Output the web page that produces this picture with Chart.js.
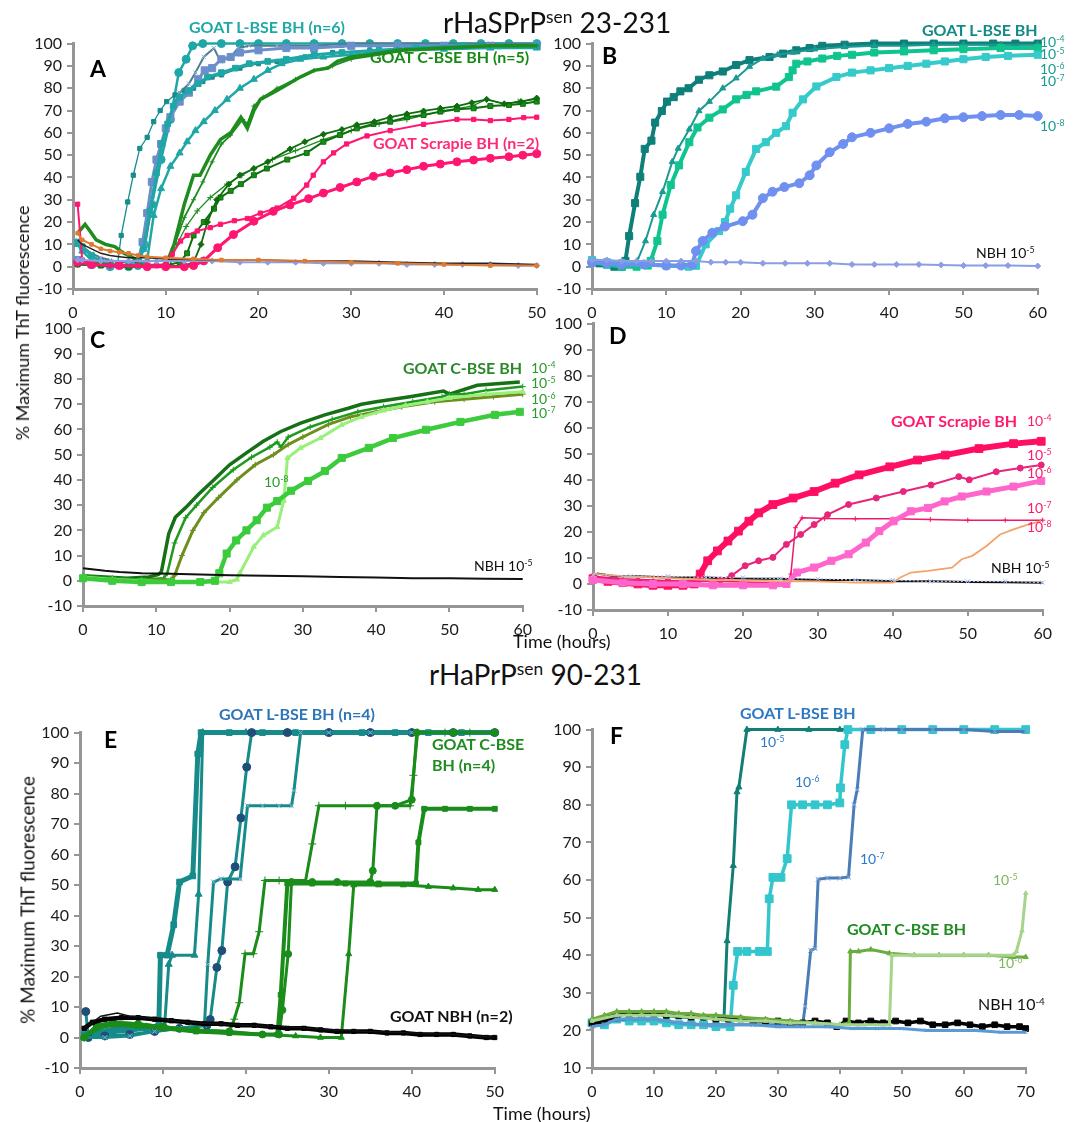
<!DOCTYPE html>
<html><head><meta charset="utf-8">
<script src="https://cdn.jsdelivr.net/npm/chart.js@4.4.1/dist/chart.umd.min.js"></script>
<style>
html,body{margin:0;padding:0;background:#fff;}
body{width:1077px;height:1122px;position:relative;overflow:hidden;font-family:Lato,"Open Sans",sans-serif;}
canvas{position:absolute;}
.t{position:absolute;white-space:nowrap;line-height:1;transform:translateY(-50%);}
.b{font-weight:bold;}
sup{font-size:0.62em;vertical-align:0.55em;line-height:0;}
</style></head><body>
<script>
// ---------------- DATA (time in hours, % maximum ThT fluorescence) ----------------
// Panel A: rHaSPrPsen 23-231, brain homogenates
const A_LBSE_1=[[0.5,10],[1,8],[2,5],[3,3],[4,1.5],[4.8,1],[5.2,14],[5.9,29],[6.5,41],[7.2,53],[8,58],[8.7,65],[9.4,70],[10.1,74],[11,77],[12,79],[13,80],[14,83],[15,85],[16,86],[18,89],[20,91],[22,92],[25,94],[28,96],[32,97],[36,98],[40,99],[45,99],[50,99]];
const A_LBSE_2=[[0.5,2],[2,1],[4,0],[6,0],[7,0.5],[7.7,10],[8.5,28],[9.5,48],[10.5,66],[11.4,87],[12.2,93],[12.9,99],[14,100],[16,100],[18,100],[20,100],[23,100],[26,100],[29,100],[32,100],[35,100],[38,100],[41,100],[44,100],[47,100],[50,100]];
const A_LBSE_3=[[0.5,3],[2,1],[4,0.5],[6,0.5],[7,2],[7.5,11],[8,24],[8.5,38],[9,48],[9.5,55],[10,62],[10.5,67],[11.5,74],[12.5,78],[13.5,84],[14.2,88],[15,89],[16,93],[17,94],[18,96],[20,97],[23,98],[26,98],[30,99],[35,99],[40,99],[45,99],[50,99]];
const A_LBSE_4=[[0.5,10],[1,7],[2,3],[3,1],[5,0],[7,0.5],[8,3],[8.7,23],[9.5,35],[10.5,45],[11.5,51],[12.3,56],[13.2,61],[14.1,65],[15.3,70],[16.6,75],[18,80],[19.5,84],[21,88],[22.5,91],[24.5,93],[27,94],[30,95],[35,97],[40,97.5],[45,98],[50,98]];
const A_LBSE_5=[[0.5,12],[1,9],[2,6],[3,4],[4,3],[5,2],[6,2],[7,2.5],[7.8,10],[8.6,30],[9.3,50],[10,62],[10.8,72],[11.5,78],[12.5,82],[13.2,87],[14.1,94],[15.2,98],[15.9,92],[17,94],[17.8,98],[19,99],[22,99],[26,99],[30,100],[35,100],[40,100],[45,100],[50,100]];
const A_LBSE_6=[[0.5,11],[1,9],[2,5],[3,2],[4,1],[6,0],[7,1],[7.6,8],[8.3,25],[9,42],[9.6,55],[10.2,64],[10.8,72],[11.5,76],[12.5,79],[13.5,82],[14.5,85],[16,87],[17.5,89],[19,91],[21,92],[23,93],[26,95],[29,96],[33,97],[37,98],[42,99],[46,99],[50,99]];
const A_CBSE_1=[[0.5,15],[1.3,19],[2,15],[2.5,12],[3.5,10],[4.5,9],[5.5,6],[6.5,4],[7,1],[8,0.5],[10,0.5],[10.9,10],[12,28],[13,41],[13.7,41],[14.8,50],[15.9,57],[17,60],[18.1,67],[18.8,62],[19.5,70],[20.2,75],[22,79],[24.5,85],[26,88],[27.5,89],[28.5,92],[30,94],[32,95],[35,97],[40,98],[45,99],[50,99]];
const A_CBSE_2=[[0.5,3],[2,2],[4,1],[6,0.5],[8,0.5],[10,1],[10.8,8],[12,22],[13,30],[14,38],[15,47],[16,55],[17,59],[18.3,66],[18.8,64],[19.5,72],[20.5,76],[22,80],[24,84],[26,88],[28,90],[30,93],[33,95],[36,97],[40,98],[45,99],[50,99]];
const A_CBSE_3=[[0.5,2],[3,1],[6,0.5],[9,0.5],[10.5,1],[11.2,10],[12.2,18],[13.4,25],[14.8,31],[16.6,37],[18.2,41],[19.5,44],[21.5,48],[24,52],[27,57],[30,61],[33,64],[36,66],[40,70],[43,72],[44.6,75],[46.5,73],[48,74],[50,75]];
const A_CBSE_4=[[0.5,1],[3,0.5],[6,0],[8,0],[10,0.5],[11.5,2],[12.3,6],[13,14],[14.1,20],[15.2,26],[15.9,31],[17,34],[18.1,37],[19.5,41],[20.9,44],[23.1,48],[25.2,51],[27,56],[28.8,59],[30.6,62],[32.4,64],[34.2,65],[36,67],[37.8,68],[39.6,69.5],[41.4,70.6],[43.2,71],[45,72],[47,72.5],[48.5,73],[50,74]];
const A_CBSE_5=[[0.5,1],[4,0.5],[8,0],[12,0.5],[13,2],[13.8,10],[14.5,20],[15.5,30],[16.8,37],[18,41],[19.5,44],[21,47],[23.4,52.8],[25,56],[27,59.4],[29,61.5],[30.6,63.6],[32.5,65],[34.2,67],[36,68.5],[37.8,69.8],[39.6,71],[41.4,72],[43,73.5],[44.6,75],[46.5,73],[48.3,74],[50,75.6]];
const A_SCR_1=[[0.5,28],[1,3],[2,1],[4,0.5],[7,0.5],[9,0.5],[10,1],[10.7,5.6],[11.6,11.5],[12.3,14],[13.4,16],[14.8,17.5],[15.9,19],[17.4,20.6],[18.8,21.6],[20.2,24],[22,26.3],[23.8,30.7],[25.2,36.6],[25.9,41],[27,47],[28.1,51],[29.5,55],[31.7,58.6],[34.2,61],[37.8,63.8],[41.4,66],[43.2,66],[45,65.5],[47,66],[48.6,66.8],[50,67]];
const A_SCR_2=[[0.5,2],[2,1],[5,0.5],[8,0],[10,0],[12,0],[13,0.5],[14.1,2.6],[15.6,8.5],[17.3,14.4],[19.5,20.4],[21.6,24.8],[23.4,27.7],[25.4,30.5],[27,33],[28.8,35.5],[30.6,38],[32.4,40.5],[34.2,42],[36,43.5],[37.8,45],[39.6,46],[41.4,47],[43.2,47.8],[45,48.6],[47,49.3],[48.5,50],[50,50.6]];
const A_NBH_1=[[0.5,15],[1,12],[2,10],[3,8],[4,7],[5,6.5],[6,6],[7,5],[8,4.5],[10,4],[13,3.5],[16,3],[20,3],[25,2.5],[30,2],[35,1.5],[40,1],[45,0.5],[50,0.5]];
const A_NBH_2=[[0.5,12],[1,10],[2,8],[3,6],[4,5],[5,4.5],[6,4],[8,4],[10,3.5],[15,3],[20,3],[25,2.5],[30,2.5],[35,2],[40,1.5],[45,1.5],[50,1]];
const A_NBH_3=[[0.5,3],[1,3],[3,2.5],[6,2.5],[9,2.5],[12,2.5],[15,2.5],[18,2],[21,2],[24,2],[27,1.5],[30,1.5],[33,1.5],[36,1],[39,1],[42,1],[45,1],[48,0.5],[50,0.5]];
// Panel B: GOAT L-BSE BH dilutions
const B_1e4=[[0,2],[1,1.5],[2,1],[3,0],[4,0],[4.5,2.6],[5,13.7],[5.8,28.5],[6.5,40.3],[7.1,52.8],[8,56.5],[8.5,64.6],[9.4,69.8],[10.1,74],[11,76],[11.9,78.6],[13,80],[14.4,83.8],[15.8,85.8],[17.6,87.5],[19.4,90.4],[21.2,92.6],[23.9,94],[25.7,95.5],[27.5,97],[29.3,98],[31,99],[34,99.5],[38,100],[42,100],[46,100],[50,100],[54,100],[57,100],[60,100]];
const B_1e5=[[0,2.5],[2,1.5],[4,0.5],[5.5,0.5],[6.1,2.6],[7.2,11.5],[8.3,23.3],[9.5,33.6],[10.8,47],[11.6,53],[13.1,61.6],[14.4,69.8],[15.8,74],[17.6,80],[19.4,84.5],[21.2,89.7],[23,93.3],[25,95],[27,96],[30,97.5],[34,98.5],[38,99],[42,99],[46,99.5],[50,99.5],[55,99.5],[60,99.5]];
const B_1e6=[[0,2],[2,1],[4,0],[6,0],[7.5,0.5],[7.9,2.6],[8.8,11.5],[9.5,23.3],[10.6,36.6],[11.7,45.4],[13.1,55.8],[14.2,62.4],[15.8,66.8],[17.6,70.5],[19.4,75],[20.8,77],[22.1,78.6],[24.8,80.7],[26.5,85],[27,88],[27.5,91],[29,92],[31,93.3],[33,94.5],[35,95],[38,96],[42,96.5],[46,97],[50,97.5],[55,98],[60,98]];
const B_1e7=[[0,3],[2,2],[4,1.5],[7,1],[10,0.5],[13,0],[14,0.4],[15.3,10],[17.1,16],[17.9,20],[18.6,26],[19.4,32],[20.7,42.5],[22.1,52.8],[23.4,55.8],[24.8,60],[26.1,63],[27,69],[28.4,75],[30.2,80.8],[32.9,85],[35,87],[37.5,88],[40,89],[42.5,90],[45,91],[47.5,92],[50,93],[53,94],[56,94.5],[60,95]];
const B_1e8=[[0,2],[2,1.5],[4,1],[7,1],[10,0.5],[12,0.5],[13.5,1],[14,7],[14.9,11.5],[16.2,15.2],[17.9,18],[20.3,20.4],[21.6,23.3],[23,30.7],[24.3,33.6],[25.9,35.7],[27.9,37.4],[29.3,41],[30.2,45.4],[32,51.3],[33.8,55],[35,58],[37.5,60],[40,62],[42.5,64],[45,65],[47.5,66.5],[50,67],[52.5,67.5],[55,68],[57.5,68],[60,67.5]];
const B_NBH=[[0,3],[2,3],[4,2.5],[6,2.5],[8,2.5],[10,2.5],[12,2.5],[14,2.5],[16,2],[18,2],[20,2],[23,1.5],[26,1.5],[29,1.5],[32,1.5],[35,1],[38,1],[41,1],[44,1],[47,0.8],[50,0.5],[53,0.5],[56,0.5],[60,0.3]];
// Panel C: GOAT C-BSE BH dilutions
const C_1e4=[[0,2],[3,1.5],[6,1],[9,1.5],[10.3,2.5],[10.7,3.6],[11.7,18.7],[12.6,25.2],[14,29],[15.8,34.4],[17.7,39.6],[20,46],[22.3,50.7],[24.6,55.3],[27,59.2],[29.7,62.5],[33,65.8],[36.2,68.4],[38,70],[40,71],[44.6,73],[49.2,75.2],[50,74],[53.8,77.5],[56,78],[59.6,78.8]];
const C_1e5=[[0,2],[4,1],[8,0.5],[11,1],[11.5,3],[12.5,15],[14,25],[15.5,30],[17.7,37],[20.5,44],[23,49],[25.5,53],[26.5,55],[27,53],[28,57],[31,61],[34,64],[37.5,67],[41,69],[45,71],[49,73],[50,74],[52,74],[55,75.5],[60,77]];
const C_1e6=[[0,1],[4,0.5],[8,0],[12,0.5],[12.5,2],[13.5,10],[15,20],[16.5,27],[18.5,33],[21,40],[23.5,46],[26,50],[28,54],[30,57],[33.5,62],[36.5,65],[40,67],[43.5,69],[48,71],[52,72],[56,73],[60,74]];
const C_1e7=[[0,1],[4,0],[8,-0.5],[12,-0.5],[16,-0.5],[18,0],[18.6,3],[19.6,10.8],[20.9,16],[22.3,20],[23.7,24],[25.1,29],[26.5,31.6],[28.4,35.7],[30.7,39.6],[33,43.5],[35.3,48.7],[39,52.7],[42.3,56.6],[46.8,59.9],[51.5,63],[56.2,65.8],[59.6,67]];
const C_1e8=[[0,1.5],[4,0.5],[8,0],[12,-0.5],[16,-0.5],[20,-0.5],[21,0.5],[21.4,3],[23.3,13.5],[24.6,18],[26.5,21.3],[27.4,31.8],[27.9,48.7],[29.7,52.7],[32.4,56.6],[35.3,61.8],[38,65],[41,67.5],[44,69.5],[47,71],[50,72.5],[55,74],[60,75]];
const C_NBH=[[0,5],[1.5,4.5],[3,4],[5,3.5],[8,3],[12,2.8],[16,2.5],[20,2.2],[25,2],[30,1.8],[35,1.5],[40,1.3],[45,1],[50,1],[55,0.8],[60,0.7]];
// Panel D: GOAT Scrapie BH dilutions
const D_1e4=[[0,2],[2,1],[4,0.5],[6,0],[8,-0.5],[10,-0.5],[12,-0.5],[13.5,0],[14.3,3.8],[15.3,8.9],[16.6,12.7],[18,16.5],[19.4,20.3],[20.8,24.1],[22.1,27.3],[24,30.5],[26.7,33],[29.5,35.5],[32.3,38.7],[35.5,41.9],[39.6,45],[43.3,47.6],[47,49.5],[51.5,52],[56.1,53.9],[59.8,54.8]];
const D_1e5=[[0,2.5],[3,1.5],[6,1],[10,1],[14,1],[17,1.5],[18.5,3.2],[20.3,7],[22.1,8.9],[24,10.2],[25.8,15.2],[27.7,19],[29.5,22.8],[31.3,26.6],[34.1,30.5],[37.8,33],[41.4,35.5],[45.1,38],[48.8,41.2],[50.2,40],[53.8,43.1],[57,44.5],[59.8,45.7]];
const D_1e6=[[0,1.5],[4,0.5],[8,0],[12,0],[16,-0.5],[20,-0.5],[24,-0.5],[25.8,0],[27.2,4.4],[29.5,6.3],[31.8,8.9],[34.1,11.4],[36.4,15.9],[38.2,20.3],[40.1,24.1],[42.4,27.9],[44.7,29.2],[46.9,31.7],[49.2,33.6],[52.5,35.5],[56.1,37.4],[59.8,39.6]];
const D_1e7=[[0,3],[4,2],[8,1.5],[12,1],[16,1],[20,0.8],[24,0.5],[26,0.8],[26.4,3.8],[27,21.6],[27.9,25.4],[30.9,25.1],[35,25],[40,25],[45,24.8],[50,24.5],[55,24.5],[60,24.5]];
const D_1e8=[[0,4],[4,3],[8,2.5],[12,2],[16,1.5],[20,1.5],[25,1],[30,1],[35,0.5],[40,0.5],[41,2.5],[42.4,4.4],[44.7,5],[47.9,6.3],[49.2,9.5],[50.6,10.8],[52.5,14.6],[54.3,19],[56.1,21],[58,22.8],[59.8,24.1]];
const D_NBH_1=[[0.5,4],[3,3],[6,3],[10,2.5],[15,2.5],[20,2],[25,2],[30,1.5],[35,1.5],[40,1],[45,1],[50,0.8],[55,0.7],[60,0.5]];
const D_NBH_2=[[0,3.5],[5,3],[10,3],[15,2.5],[20,2.5],[25,2],[30,2],[35,1.5],[40,1.5],[45,1],[50,1],[55,1],[60,0.5]];
// Panel E: rHaPrPsen 90-231
const E_LBSE_1=[[0.5,1],[2,1.5],[4,2],[6,2.5],[8,3],[9.5,4],[9.7,27],[10.5,27],[11.3,37],[12,51],[13.6,53],[14.2,93],[14.6,100],[18,100],[22,100],[26,100],[30,100],[34,100],[38,100],[42,100],[46,100],[50,100]];
const E_LBSE_2=[[0.5,0],[2,2],[4,3],[6,3.5],[8,3.5],[10.2,4],[10.7,24],[11.1,27],[13.8,27],[14.3,47],[14.8,100],[20,100],[25,100],[30,100],[35,100],[40,100],[45,100],[50,100]];
const E_LBSE_3=[[0.7,8.5],[1,0],[3,0.5],[6,1],[9,2],[12,3],[15.3,4],[15.7,5.9],[16.5,23],[17.1,28.5],[17.8,51],[18.7,56],[19.4,72],[20.1,88.7],[20.7,100],[25,100],[30,100],[35,100],[40,100],[45,100],[50,100]];
const E_LBSE_4=[[0.5,0],[3,0],[6,0.5],[9,2],[12,3],[15,4],[15.4,24],[16.1,51],[17,52],[19.3,52],[20.2,76],[22,76],[24,76],[25.5,76],[25.8,81],[26.6,100],[30,100],[35,100],[40,100],[45,100],[50,100]];
const E_CBSE_1=[[0.5,0],[2,4],[4,5],[7,4.5],[10,3.5],[14,2.5],[18,2],[18.6,6],[19.2,11.4],[19.9,27.5],[20.9,27.5],[21.6,34.7],[22.3,51.5],[24,51.5],[27.2,51.5],[28,63.5],[28.8,76],[32,76],[36,76],[39.8,76],[40.2,86],[40.7,100],[44,100],[47,100],[50,100]];
const E_CBSE_2=[[0.5,0],[2,4],[4,5],[7,4.5],[10,3.5],[14,2.5],[18,2],[22,1],[24,1],[24.4,9],[25.1,27.4],[25.5,51],[28,51],[31,51],[35,51],[35.3,54.7],[35.8,76],[38,76],[40,78],[40.6,100],[45,100],[50,100]];
const E_CBSE_3=[[0.5,0],[2,3],[4,4.5],[7,4],[10,3],[14,2],[18,1.5],[22,1],[23.8,1],[24.2,14],[25,50.5],[28,50.5],[32,50.5],[36,50.5],[40.5,50.5],[40.8,64],[41.5,75],[44,75],[47,75],[50,75]];
const E_CBSE_4=[[0.5,0],[2,3],[4,4],[7,3.5],[10,3],[14,2],[18,1.5],[22,1],[26,0.5],[29,0],[31.5,0],[32.4,27.4],[33,50],[36,50],[39,50],[42,49.5],[45,49],[48,48.5],[50,48.5]];
const E_NBH_1=[[0.5,3],[1.5,5],[3,6],[5,6.5],[7,6.5],[9,6],[11,5.5],[13,5],[15,4.5],[17,4.5],[19,4],[21,4],[23,3.5],[25,3],[27,3],[29,2.5],[31,2],[33,2],[35,2],[37,1.5],[39,1.5],[41,1],[43,1],[45,1],[47,0.5],[49,0],[50,0]];
const E_NBH_2=[[0.5,3],[1.5,5],[2.5,7],[4.5,8],[6,7],[8,6.5],[10,6],[13,5],[16,4.5],[20,4],[25,3.5],[30,2.5],[35,2],[40,1.5],[45,1],[50,0]];
// Panel F: dilutions in rHaPrPsen 90-231
const F_L_1e5=[[0,22],[2,23],[4,24],[6,24.5],[8,24.5],[10,24.5],[12,24],[14,23.5],[16,23.5],[18,23.5],[20,23],[21.3,23],[21.8,43.8],[22.8,63.8],[23.4,83.4],[23.7,84.7],[25,100],[30,100],[35,100],[40,100],[45,100],[50,100],[55,100],[60,100],[65,100],[70,100]];
const F_L_1e6=[[0,22],[2,21.5],[4,23],[6,22.5],[8,22.5],[10,22.5],[12,22],[14,21.5],[16,21.5],[18,21.5],[20,21],[22.3,21],[22.8,32],[23.5,41],[25,41],[27,41],[28.3,41],[28.6,55],[29.2,60.7],[30.5,60.7],[31.5,65.7],[32.2,80],[34,80],[36,80],[38,80],[40,80.5],[40.1,84.5],[40.8,96],[41.3,100],[45,100],[50,100],[55,100],[60,100],[65,100],[70,100]];
const F_L_1e7=[[0,21],[3,22.5],[6,23],[10,23],[14,22],[18,21.5],[22,21.5],[26,21.5],[30,21.5],[34,21.5],[34.4,26.4],[35.3,41.3],[36,41.8],[36.5,60.2],[38,60.5],[40,60.5],[41.4,60.8],[42.3,80],[42.8,84],[43.7,100],[47,100],[50,100],[55,100],[60,100],[65,99.5],[70,99.5]];
const F_C_1e6=[[0,23],[2,24],[4,25],[6,25],[8,25],[10,25],[12,25],[14,24.5],[16,24.5],[18,24],[20,24],[24,23.5],[28,23],[32,22.5],[36,22],[40,21.5],[41.5,22],[41.7,41],[43,41],[45,41.5],[48,40.5],[52,40],[56,40],[60,40],[64,40],[68,39.5],[70,39.5]];
const F_C_1e5=[[0,22.5],[4,24],[8,24],[12,24],[16,23.5],[20,23],[24,22.5],[28,22.5],[32,22],[36,22],[40,21.5],[44,21.5],[48,21.5],[48.4,40],[52,40],[56,40],[60,40],[64,40],[68,40],[68.5,41],[69.4,46.5],[70,56.5]];
const F_NBH_1=[[0,22],[1,22.5],[2,23],[3,23.5],[4,24],[6,24.5],[8,24.5],[10,24.5],[12,24],[14,24],[16,23.5],[18,23.5],[20,23],[22,23],[24,23],[26,22.5],[28,22.5],[30,22.5],[32,22],[34,22],[36,22.5],[38,22],[39.5,21],[41,22.5],[43,22],[45,22.5],[47,22],[49,22.5],[51,22],[53,22.5],[55,21.5],[57,21.5],[59,22],[61,21.5],[63,21],[65,21.5],[67,21],[69,21],[70,20.5]];
const F_NBH_2=[[0,21],[2,21.5],[4,23],[6,23],[8,23],[10,23],[14,22],[18,21.5],[22,21.5],[26,21.5],[30,21],[34,21],[38,21],[42,20.5],[46,20.5],[50,20.5],[54,20],[58,20],[62,20],[66,19.5],[70,19.5]];
// axis tick settings
const X_MAX_A=50, X_MAX_B=60, X_MAX_C=60, X_MAX_D=60, X_MAX_E=50, X_MAX_F=70;
const Y_MIN_TOP=-10, Y_MIN_F=10, Y_MAX=100, X_STEP=10, Y_STEP=10;

// ---------------- RENDERING ----------------
function ds(arr,color,o){
  return Object.assign({data:arr.map(p=>({x:p[0],y:p[1]})),borderColor:color,backgroundColor:color,
    borderWidth:2,pointRadius:2.5,pointStyle:'circle',pointBorderWidth:1,tension:0,clip:8,fill:false},o||{});
}
const AX='#969696';
function panel(box,xMax,yMin,datasets){
  const L=62,T=12,R=14,B=36;
  const c=document.createElement('canvas');
  const w=box.r-box.l+L+R, h=box.b-box.t+T+B;
  c.width=w;c.height=h;c.style.left=(box.l-L)+'px';c.style.top=(box.t-T)+'px';
  c.style.width=w+'px';c.style.height=h+'px';
  document.body.appendChild(c);
  const tickFont={family:'Lato',size:16};
  new Chart(c,{type:'line',data:{datasets},options:{
    responsive:false,animation:false,devicePixelRatio:1,
    layout:{padding:{top:T,right:R,left:0,bottom:0}},
    plugins:{legend:{display:false},tooltip:{enabled:false}},
    scales:{
      x:{type:'linear',min:0,max:xMax,
        border:{color:AX,width:3},
        grid:{display:true,drawOnChartArea:false,drawTicks:true,tickLength:6,color:AX,lineWidth:2},
        ticks:{stepSize:X_STEP,color:'#1a1a1a',font:tickFont,padding:8,maxRotation:0,autoSkip:false},
        afterFit(s){s.height=B;}},
      y:{type:'linear',min:yMin,max:Y_MAX,
        border:{color:AX,width:3},
        grid:{display:true,drawOnChartArea:false,drawTicks:true,tickLength:6,color:AX,lineWidth:2},
        ticks:{stepSize:Y_STEP,color:'#1a1a1a',font:tickFont,padding:5,autoSkip:false},
        afterFit(s){s.width=L;}}
    }}});
}
function lab(x,y,html,color,size,bold){
  const d=document.createElement('div');d.className='t'+(bold?' b':'');
  d.style.left=x+'px';d.style.top=y+'px';d.style.color=color;d.style.fontSize=size+'px';
  d.innerHTML=html;document.body.appendChild(d);
}
function vlab(cx,cy,text,size){
  const d=document.createElement('div');
  d.style.cssText='position:absolute;white-space:nowrap;line-height:1;left:'+cx+'px;top:'+cy+'px;font-size:'+size+'px;color:#111;transform:translate(-50%,-50%) rotate(-90deg);';
  d.textContent=text;document.body.appendChild(d);
}

// colours
const TEAL='#1FA6A6',TEAL2='#178C8C',STEEL='#6C8FCB',SLATE='#4E7E8E';
const GRN='#1E8C1E',GRN2='#0E6E0E',PINK='#FF1670',ORNG='#E07A30',PURP='#8C9EE2';

// Panel A
panel({l:73,t:41,r:540,b:289},X_MAX_A,Y_MIN_TOP,[
  ds(A_NBH_1,ORNG,{pointStyle:'rect',pointRadius:2.5,borderWidth:2}),
  ds(A_NBH_2,'#222',{pointRadius:0,borderWidth:1.5}),
  ds(A_NBH_3,PURP,{pointStyle:'rectRot',pointRadius:3,borderWidth:2}),
  ds(A_SCR_2,PINK,{pointStyle:'circle',pointRadius:4,borderWidth:3}),
  ds(A_SCR_1,PINK,{pointStyle:'rect',pointRadius:3,borderWidth:2}),
  ds(A_CBSE_5,GRN2,{pointStyle:'rectRot',pointRadius:3,borderWidth:1.8}),
  ds(A_CBSE_4,GRN2,{pointStyle:'rect',pointRadius:3.5,borderWidth:2,backgroundColor:'#1a8a1a'}),
  ds(A_CBSE_3,GRN,{pointStyle:'cross',pointRadius:3,borderWidth:1.3}),
  ds(A_CBSE_2,GRN,{pointStyle:'cross',pointRadius:2.5,borderWidth:1.8}),
  ds(A_CBSE_1,GRN,{pointRadius:0,borderWidth:3.5}),
  ds(A_LBSE_4,TEAL,{pointStyle:'triangle',pointRadius:4,borderWidth:2.5}),
  ds(A_LBSE_6,TEAL,{pointStyle:'rect',pointRadius:4,borderWidth:3}),
  ds(A_LBSE_3,STEEL,{pointStyle:'rect',pointRadius:5,borderWidth:3}),
  ds(A_LBSE_5,SLATE,{pointStyle:'crossRot',pointRadius:3,borderWidth:2,pointBorderColor:'#8fb0d8'}),
  ds(A_LBSE_1,TEAL2,{pointStyle:'rect',pointRadius:3,borderWidth:1.3}),
  ds(A_LBSE_2,TEAL,{pointStyle:'circle',pointRadius:4,borderWidth:2.5})
]);
// Panel B
panel({l:592,t:41,r:1041,b:289},X_MAX_B,Y_MIN_TOP,[
  ds(B_NBH,'#8C9EE2',{pointStyle:'rectRot',pointRadius:3,borderWidth:2}),
  ds(B_1e8,'#6F90F0',{pointStyle:'circle',pointRadius:4.5,borderWidth:4}),
  ds(B_1e7,'#36CACA',{pointStyle:'rect',pointRadius:5,borderWidth:4}),
  ds(B_1e6,'#10C48F',{pointStyle:'rect',pointRadius:5,borderWidth:4}),
  ds(B_1e5,'#1A9A92',{pointStyle:'triangle',pointRadius:3.5,borderWidth:2}),
  ds(B_1e4,'#0F7F7A',{pointStyle:'rect',pointRadius:5,borderWidth:4})
]);
// Panel C
panel({l:83,t:326,r:526,b:606},X_MAX_C,Y_MIN_TOP,[
  ds(C_NBH,'#111',{pointRadius:0,borderWidth:2}),
  ds(C_1e7,'#3CCB3C',{pointStyle:'rect',pointRadius:5,borderWidth:4.5}),
  ds(C_1e8,'#98F07A',{pointStyle:'triangle',pointRadius:3,borderWidth:3}),
  ds(C_1e6,'#6E8F1E',{pointStyle:'cross',pointRadius:3,borderWidth:3}),
  ds(C_1e5,'#1E9A1E',{pointStyle:'cross',pointRadius:3,borderWidth:2.5}),
  ds(C_1e4,'#167016',{pointRadius:0,borderWidth:3.5})
]);
// Panel D
panel({l:593,t:321,r:1046,b:610},X_MAX_D,Y_MIN_TOP,[
  ds(D_NBH_2,'#A9BCE8',{pointStyle:'crossRot',pointRadius:3,borderWidth:1.2,borderDash:[2,2]}),
  ds(D_1e8,'#F4A46A',{pointRadius:0,borderWidth:1.8}),
  ds(D_1e6,'#FF66CC',{pointStyle:'rect',pointRadius:5,borderWidth:5}),
  ds(D_1e5,'#E8257A',{pointStyle:'circle',pointRadius:3,borderWidth:2}),
  ds(D_1e7,'#F0186A',{pointStyle:'cross',pointRadius:2.5,borderWidth:1.5}),
  ds(D_1e4,'#FF0F63',{pointStyle:'rect',pointRadius:5.5,borderWidth:6}),
  ds(D_NBH_1,'#111',{pointRadius:0,borderWidth:2})
]);
// Panel E
const ETEAL='#178A8A',EGRN='#1A8C1A';
panel({l:80,t:730,r:498,b:1068},X_MAX_E,Y_MIN_TOP,[
  ds(E_NBH_2,'#111',{pointRadius:0,borderWidth:1.5}),
  ds(E_NBH_1,'#000',{pointStyle:'rect',pointRadius:3,borderWidth:4.5}),
  ds(E_CBSE_4,EGRN,{pointStyle:'triangle',pointRadius:3.5,borderWidth:3}),
  ds(E_CBSE_3,EGRN,{pointStyle:'rect',pointRadius:3.5,borderWidth:4}),
  ds(E_CBSE_2,EGRN,{pointStyle:'circle',pointRadius:3.5,borderWidth:3}),
  ds(E_CBSE_1,EGRN,{pointStyle:'cross',pointRadius:4,borderWidth:3}),
  ds(E_LBSE_4,ETEAL,{pointStyle:'crossRot',pointRadius:3.5,borderWidth:3,pointBorderColor:'#7FB0D8'}),
  ds(E_LBSE_3,ETEAL,{pointStyle:'circle',pointRadius:4,borderWidth:3,pointBackgroundColor:'#1F4E79',pointBorderColor:'#1F4E79'}),
  ds(E_LBSE_2,ETEAL,{pointStyle:'triangle',pointRadius:4,borderWidth:3}),
  ds(E_LBSE_1,ETEAL,{pointStyle:'rect',pointRadius:4,borderWidth:5})
]);
// Panel F
panel({l:592,t:727,r:1029,b:1068},X_MAX_F,Y_MIN_F,[
  ds(F_NBH_2,'#5B9BD5',{pointStyle:'crossRot',pointRadius:2.5,borderWidth:3}),
  ds(F_C_1e5,'#A6D48A',{pointStyle:'triangle',pointRadius:2.5,borderWidth:3}),
  ds(F_C_1e6,'#6AAD3E',{pointStyle:'triangle',pointRadius:3,borderWidth:3}),
  ds(F_NBH_1,'#000',{pointStyle:'rect',pointRadius:4,borderWidth:3.5}),
  ds(F_L_1e7,'#4A7DB8',{pointStyle:'crossRot',pointRadius:3.5,borderWidth:3,pointBorderColor:'#7FA6D8'}),
  ds(F_L_1e6,'#33C6CC',{pointStyle:'rect',pointRadius:5.5,borderWidth:3.5}),
  ds(F_L_1e5,'#127E74',{pointStyle:'triangle',pointRadius:3.5,borderWidth:3})
]);

// ---------------- TEXT ----------------
lab(443,22,'rHaSPrP<sup style="font-size:0.62em">sen</sup> 23-231','#111',28,false);
lab(429,674,'rHaPrP<sup style="font-size:0.62em">sen</sup> 90-231','#111',28,false);
lab(513,641,'Time (hours)','#111',18,false);
lab(493,1113,'Time (hours)','#111',18,false);
vlab(22,323,'% Maximum ThT fluorescence',18);
vlab(27,900,'% Maximum ThT fluorescence',19);
// panel letters
lab(90,68,'A','#000',23,true);
lab(602,55,'B','#000',23,true);
lab(90,339,'C','#000',23,true);
lab(609,335,'D','#000',23,true);
lab(104,739,'E','#000',23,true);
lab(610,735,'F','#000',23,true);
// A
lab(189,27,'GOAT L-BSE BH (n=6)','#20A8A8',16,true);
lab(370,57,'GOAT C-BSE BH (n=5)','#158A15',16,true);
lab(373,143,'GOAT Scrapie BH (n=2)','#FF2A7A',16,true);
// B
lab(922,30,'GOAT L-BSE BH','#138A85',16,true);
const BL='#1A9A90';
lab(1040,42,'10<sup>-4</sup>',BL,14);
lab(1040,54,'10<sup>-5</sup>',BL,14);
lab(1040,69,'10<sup>-6</sup>',BL,14);
lab(1040,81,'10<sup>-7</sup>',BL,14);
lab(1040,126,'10<sup>-8</sup>',BL,14);
lab(976,253,'NBH 10<sup>-5</sup>','#111',14);
// C
lab(403,368,'GOAT C-BSE BH','#2A8A2A',16,true);
const CL='#2A9A2A';
lab(531,368,'10<sup>-4</sup>',CL,14);
lab(531,383,'10<sup>-5</sup>',CL,14);
lab(531,399,'10<sup>-6</sup>',CL,14);
lab(531,413,'10<sup>-7</sup>',CL,14);
lab(264,482,'10<sup>-8</sup>',CL,14);
lab(474,566,'NBH 10<sup>-5</sup>','#111',14);
// D
lab(891,421,'GOAT Scrapie BH','#FF1A6E',16,true);
const DL='#FF1A6E';
lab(1027,421,'10<sup>-4</sup>',DL,14);
lab(1027,455,'10<sup>-5</sup>',DL,14);
lab(1027,473,'10<sup>-6</sup>',DL,14);
lab(1027,508,'10<sup>-7</sup>',DL,14);
lab(1027,527,'10<sup>-8</sup>',DL,14);
lab(991,568,'NBH 10<sup>-5</sup>','#111',14);
// E
lab(219,714,'GOAT L-BSE BH (n=4)','#2E75B6',16,true);
lab(432,744,'GOAT C-BSE','#1E8C1E',16,true);
lab(432,765,'BH (n=4)','#1E8C1E',16,true);
lab(390,1016,'GOAT NBH (n=2)','#111',16,true);
// F
lab(740,713,'GOAT L-BSE BH','#2E78C4',16,true);
lab(760,742,'10<sup>-5</sup>','#2E78C4',14);
lab(795,782,'10<sup>-6</sup>','#2E78C4',14);
lab(860,859,'10<sup>-7</sup>','#2E78C4',14);
lab(847,929,'GOAT C-BSE BH','#1E8C1E',16,true);
lab(993,880,'10<sup>-5</sup>','#7FB55C',14);
lab(998,963,'10<sup>-6</sup>','#7FB55C',14);
lab(978,1004,'NBH 10<sup>-4</sup>','#111',16);
</script>
</body></html>
